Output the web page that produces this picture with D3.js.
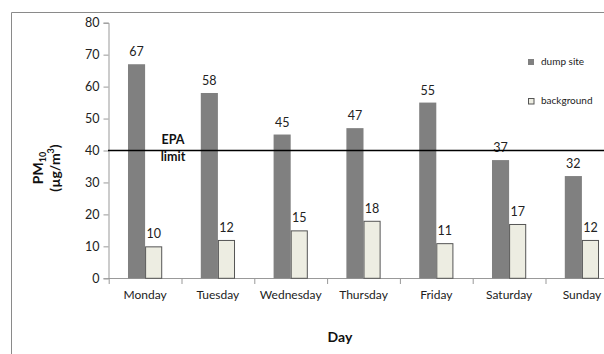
<!DOCTYPE html>
<html><head><meta charset="utf-8">
<script src="https://cdn.jsdelivr.net/npm/d3@7"></script>
<style>body{margin:0;background:#fff}svg{display:block}text{font-family:Lato,"Open Sans",sans-serif}</style>
</head><body>
<svg id="c" width="604" height="354"></svg>
<script>
const days = ["Monday","Tuesday","Wednesday","Thursday","Friday","Saturday","Sunday"];
const seriesNames = ["dump site","background"];
const dumpSite = [67,58,45,47,55,37,32];
const background = [10,12,15,18,11,17,12];
const yTicks = [0,10,20,30,40,50,60,70,80];
const epaLimit = 40;

const svg = d3.select("#c");
const W = 604, H = 354;

// frame
svg.append("line").attr("x1",11.5).attr("x2",W).attr("y1",12.5).attr("y2",12.5).attr("stroke","#8a8a8a").attr("stroke-width",1);
svg.append("line").attr("x1",11.5).attr("x2",11.5).attr("y1",12.5).attr("y2",H).attr("stroke","#8a8a8a").attr("stroke-width",1);

const y = d3.scaleLinear().domain([0,80]).range([278.3,22.7]);
const x0 = d3.scaleBand().domain(days).range([108.7,618.3]).paddingInner(0.53).paddingOuter(0.265);
const x1 = d3.scaleBand().domain(seriesNames).range([0,x0.bandwidth()]);

// y axis
const ya = svg.append("g").attr("transform","translate(108.5,0)")
  .call(d3.axisLeft(y).tickValues(yTicks).tickSize(5).tickPadding(4));
ya.select(".domain").attr("stroke","#999");
ya.selectAll(".tick line").attr("stroke","#999");
ya.selectAll(".tick text").attr("font-size",12.5).attr("fill","#222").style("font-family","Lato");

// x axis
const xa = svg.append("g").attr("transform","translate(0,278.5)")
  .call(d3.axisBottom(x0).tickSize(0).tickPadding(12));
xa.select(".domain").attr("stroke","#999").attr("d","M108.5,0H"+W);
xa.selectAll(".tick text").attr("font-size",12).attr("fill","#222").style("font-family","Lato");
// category boundary ticks
svg.append("g").selectAll("line").data(days).join("line")
  .attr("x1",d=>x0(d)-x0.step()*0.265+0.5).attr("x2",d=>x0(d)-x0.step()*0.265+0.5)
  .attr("y1",278.5).attr("y2",284).attr("stroke","#999");

const data = days.map((d,i)=>({day:d, vals:[{s:"dump site",v:dumpSite[i]},{s:"background",v:background[i]}]}));
const g = svg.append("g").selectAll("g").data(data).join("g").attr("transform",d=>`translate(${x0(d.day)},0)`);
g.selectAll("rect").data(d=>d.vals).join("rect")
  .attr("x",d=>x1(d.s)+(d.s==="background"?0.5:0))
  .attr("width",d=>x1.bandwidth()-(d.s==="background"?1:0))
  .attr("y",d=>y(d.v)+(d.s==="background"?0.5:0))
  .attr("height",d=>y(0)-y(d.v)-(d.s==="background"?0.5:0))
  .attr("fill",d=>d.s==="dump site"?"#808080":"#ededE2")
  .attr("stroke",d=>d.s==="dump site"?"none":"#555")
  .attr("stroke-width",1);
g.selectAll("text").data(d=>d.vals).join("text")
  .attr("x",d=>x1(d.s)+x1.bandwidth()/2)
  .attr("y",d=>y(d.v)-8)
  .attr("text-anchor","middle").attr("font-size",12.5).attr("fill","#222")
  .text(d=>d.v);

// EPA line
svg.append("line").attr("x1",108).attr("x2",W).attr("y1",y(epaLimit)).attr("y2",y(epaLimit)).attr("stroke","#000").attr("stroke-width",1.5);
svg.append("text").attr("x",173).attr("y",144).attr("text-anchor","middle").attr("font-weight","bold").attr("font-size",12.5).attr("fill","#111").text("EPA");
svg.append("text").attr("x",173).attr("y",161).attr("text-anchor","middle").attr("font-weight","bold").attr("font-size",12.5).attr("fill","#111").text("limit");

// legend
const lg = svg.append("g");
seriesNames.forEach((s,i)=>{
  const ly = 59 + i*39;
  lg.append("rect").attr("x",s==="dump site"?528:528.5).attr("y",s==="dump site"?ly:ly+0.5).attr("width",s==="dump site"?6:5.5).attr("height",s==="dump site"?6:5.5)
    .attr("fill",s==="dump site"?"#808080":"#ededE2").attr("stroke",s==="dump site"?"none":"#555");
  lg.append("text").attr("x",541).attr("y",ly+6).attr("font-size",10).attr("fill","#222").text(s);
});

// axis titles
svg.append("text").attr("x",340).attr("y",342).attr("text-anchor","middle").attr("font-weight","bold").attr("font-size",14).attr("fill","#111").text("Day");
const yl = svg.append("g").attr("transform","translate(0,168) rotate(-90)");
const t1 = yl.append("text").attr("x",0).attr("y",43).attr("text-anchor","middle").attr("font-weight","bold").attr("font-size",14).attr("fill","#111");
t1.append("tspan").text("PM");
t1.append("tspan").attr("font-size",9).attr("dy",3).text("10");
const t2 = yl.append("text").attr("x",0).attr("y",60).attr("text-anchor","middle").attr("font-weight","bold").attr("font-size",14).attr("fill","#111");
t2.append("tspan").text("(µg/m");
t2.append("tspan").attr("font-size",9).attr("dy",-6).text("3");
t2.append("tspan").attr("dy",6).text(")");
</script>
</body></html>
